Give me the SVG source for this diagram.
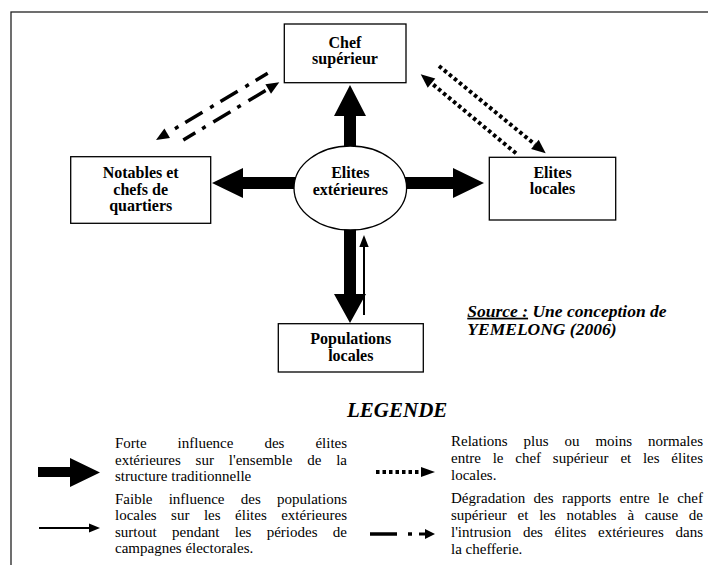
<svg xmlns="http://www.w3.org/2000/svg" width="708" height="565" viewBox="0 0 708 565">
<style>
  .box { fill: #fff; stroke: #000; stroke-width: 1.3; }
  .node { font-family: "Liberation Serif", "Times New Roman", serif; font-weight: bold; font-size: 16px; text-anchor: middle; fill: #000; }
  .leg { font-family: "Liberation Serif", "Times New Roman", serif; font-size: 15px; fill: #000; }
  .thick { fill: #000; }
  .dashdot { fill: none; stroke: #000; stroke-width: 3.5; stroke-dasharray: 20 8 4 9; stroke-dashoffset: 6; }
  .dotted { fill: none; stroke: #000; stroke-width: 4; stroke-dasharray: 3.5 3; }
  .head { fill: #000; }
  .end { text-anchor: end; }
</style>
<rect x="11" y="12" width="720" height="600" fill="#fff" stroke="#222" stroke-width="1.3"/>

<g id="connectors">
  <polygon class="thick" points="344,150 344,116 334,116 350,85 366,116 356,116 356,150"/>
  <polygon class="thick" points="298,177 243,177 243,168 212,183 243,198 243,189 298,189"/>
  <polygon class="thick" points="403,177 453,177 453,168 484,183 453,198 453,189 403,189"/>
  <polygon class="thick" points="344,226 356,226 356,294 366,294 350,323 334,294 344,294"/>
  <line x1="364" y1="315" x2="364" y2="245" stroke="#000" stroke-width="2"/>
  <polygon class="head" points="359.3,247 364,235 368.7,247"/>
  <line class="dashdot" x1="183.3" y1="140" x2="268.2" y2="89"/>
  <polygon class="head" points="271,93.7 279.3,82.3 265.4,84.3"/>
  <line class="dashdot" x1="267.7" y1="73.3" x2="167.2" y2="133.3"/>
  <polygon class="head" points="170,138 156,140 164.4,128.6"/>
  <line class="dotted" x1="516" y1="153.3" x2="431.5" y2="83.2"/>
  <polygon class="head" points="435.3,78.6 420.7,74.3 427.7,87.8"/>
  <line class="dotted" x1="439" y1="66" x2="534.9" y2="144.4"/>
  <polygon class="head" points="531.1,149 545.7,153.3 538.7,139.8"/>
</g>

<g id="chef-superieur">
  <rect class="box" x="284.3" y="24" width="121.7" height="58.7"/>
  <text class="node" x="345" y="48">Chef</text>
  <text class="node" x="345" y="64">supérieur</text>
</g>

<g id="notables">
  <rect class="box" x="70.7" y="156.7" width="140" height="66.6"/>
  <text class="node" x="140.7" y="178">Notables et</text>
  <text class="node" x="140.7" y="194.5">chefs de</text>
  <text class="node" x="140.7" y="211">quartiers</text>
</g>

<g id="elites-exterieures">
  <ellipse class="box" cx="350.3" cy="188" rx="56.3" ry="42"/>
  <text class="node" x="350.3" y="178.3">Elites</text>
  <text class="node" x="350.3" y="195">extérieures</text>
</g>

<g id="elites-locales">
  <rect class="box" x="489.3" y="157.3" width="126.4" height="62.7"/>
  <text class="node" x="552.5" y="177.5">Elites</text>
  <text class="node" x="552.5" y="194.3">locales</text>
</g>

<g id="populations-locales">
  <rect class="box" x="278.3" y="323.7" width="145" height="48.3"/>
  <text class="node" x="350.8" y="344">Populations</text>
  <text class="node" x="350.8" y="360.5">locales</text>
</g>

<g id="source" font-family="Liberation Serif, Times New Roman, serif" font-weight="bold" font-style="italic" font-size="17.5px">
  <text x="467.3" y="316.7"><tspan text-decoration="underline">Source :</tspan> Une conception de</text>
  <text x="467.3" y="335">YEMELONG (2006)</text>
</g>

<g id="legend">
  <text x="347" y="417" font-family="Liberation Serif, Times New Roman, serif" font-weight="bold" font-style="italic" font-size="21px">LEGENDE</text>

  <polygon class="thick" points="38,467 70,467 70,458 100,472.5 70,487 70,477 38,477"/>
  <text class="leg" y="448"><tspan x="115">Forte</tspan><tspan x="177.6">influence</tspan><tspan x="264.4">des</tspan><tspan x="315.4">élites</tspan></text>
  <text class="leg" y="464.5"><tspan x="115">extérieures</tspan><tspan x="195.6">sur</tspan><tspan x="228.8">l'ensemble</tspan><tspan x="307.2">de</tspan><tspan x="336.2">la</tspan></text>
  <text class="leg" x="115" y="481">structure traditionnelle</text>

  <line x1="39" y1="528" x2="91" y2="528" stroke="#000" stroke-width="2"/>
  <polygon class="head" points="89,523.5 100,528 89,532.5"/>
  <text class="leg" y="504"><tspan x="115">Faible</tspan><tspan x="168.7">influence</tspan><tspan x="240.8">des</tspan></text>
  <text class="leg end" x="347" y="504">populations</text>
  <text class="leg" y="520"><tspan x="115">locales</tspan><tspan x="171.1">sur</tspan><tspan x="203.9">les</tspan><tspan x="235.1">élites</tspan></text>
  <text class="leg end" x="347" y="520">extérieures</text>
  <text class="leg" y="536.5"><tspan x="115">surtout</tspan><tspan x="172">pendant</tspan><tspan x="234.8">les</tspan><tspan x="266.7">périodes</tspan></text>
  <text class="leg end" x="347" y="536.5">de</text>
  <text class="leg" x="115" y="553">campagnes électorales.</text>

  <line class="dotted" x1="376" y1="472" x2="421" y2="472"/>
  <polygon class="head" points="421,467 435,472 421,477"/>
  <text class="leg" y="446"><tspan x="451">Relations</tspan><tspan x="523.6">plus</tspan><tspan x="564.5">ou</tspan><tspan x="595.4">moins</tspan></text>
  <text class="leg end" x="703" y="446">normales</text>
  <text class="leg" y="463"><tspan x="451">entre</tspan><tspan x="492.7">le</tspan><tspan x="515.3">chef</tspan><tspan x="552.8">supérieur</tspan><tspan x="620.4">et</tspan><tspan x="642.9">les</tspan></text>
  <text class="leg end" x="703" y="463">élites</text>
  <text class="leg" x="451" y="480">locales.</text>

  <line x1="370" y1="534" x2="397" y2="534" stroke="#000" stroke-width="3.5"/>
  <line x1="408" y1="534" x2="412" y2="534" stroke="#000" stroke-width="3.5"/>
  <line x1="419" y1="534" x2="426" y2="534" stroke="#000" stroke-width="3"/>
  <polygon class="head" points="425,529 435,534 425,539"/>
  <text class="leg" y="503"><tspan x="451">Dégradation</tspan><tspan x="533.6">des</tspan><tspan x="562">rapports</tspan><tspan x="619.6">entre</tspan><tspan x="658">le</tspan></text>
  <text class="leg end" x="703" y="503">chef</text>
  <text class="leg" y="520"><tspan x="451">supérieur</tspan><tspan x="517.6">et</tspan><tspan x="539.2">les</tspan><tspan x="566.6">notables</tspan><tspan x="627.4">à</tspan><tspan x="644.8">cause</tspan></text>
  <text class="leg end" x="703" y="520">de</text>
  <text class="leg" y="537"><tspan x="451">l'intrusion</tspan><tspan x="522.9">des</tspan><tspan x="554.6">élites</tspan><tspan x="598">extérieures</tspan></text>
  <text class="leg end" x="703" y="537">dans</text>
  <text class="leg" x="451" y="554">la chefferie.</text>
</g>
</svg>
